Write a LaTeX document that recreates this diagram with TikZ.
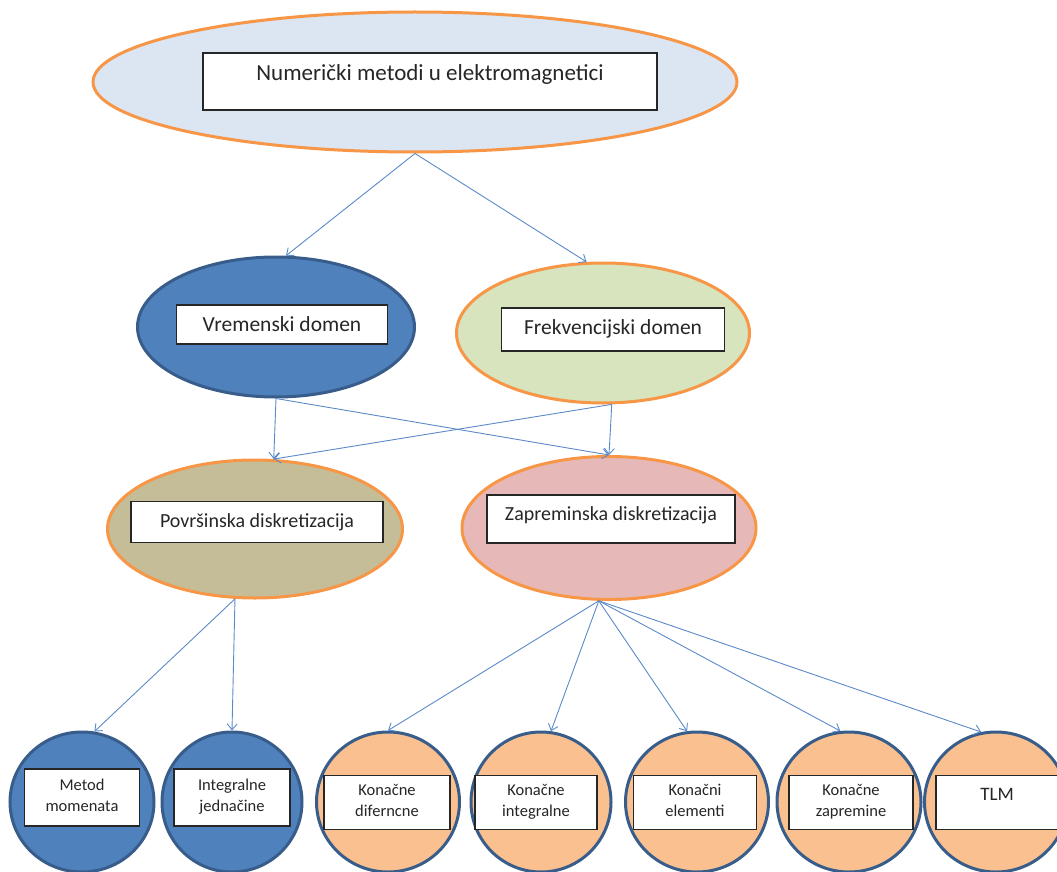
\documentclass[tikz,border=0pt]{standalone}
\usepackage{fontspec}
\setmainfont{Carlito}
\usepackage{xcolor}
\usetikzlibrary{arrows.meta}
\usetikzlibrary{shapes.geometric}
\definecolor{orangeline}{HTML}{F79646}
\definecolor{blueline}{HTML}{385D8A}
\definecolor{arrowblue}{HTML}{5B8AC8}
\definecolor{topfill}{HTML}{DCE6F2}
\definecolor{timefill}{HTML}{4F81BD}
\definecolor{freqfill}{HTML}{D7E4BD}
\definecolor{surffill}{HTML}{C4BD97}
\definecolor{volfill}{HTML}{E6B9B8}
\definecolor{methfill}{HTML}{FAC090}
\tikzset{
    blob/.style={
        draw,
        ellipse,
        line width=3pt,
        inner sep=0pt
    },
    tag/.style={
        draw=black!85,
        fill=white,
        text=black!85,
        rectangle,
        line width=1.4pt,
        inner sep=0pt
    },
    link/.style={
        draw=arrowblue,
        line width=0.9pt,
        -{Straight Barb[length=6pt, width=10pt]}
    }
}
% text raised inside a box, rows centred
\newcommand{\lbl}[2]{\raisebox{#1}[0pt][0pt]{\begin{tabular}{@{}c@{}}#2\end{tabular}}}

\begin{document}
\begin{tikzpicture}[x=1pt, y=-1pt]
    \useasboundingbox (0,0) rectangle (1057,872);

    % top
    \node[blob, fill=topfill, draw=orangeline, minimum width=644pt, minimum height=140pt] (num) at (415,82) {};
    \node[tag, minimum width=454pt, minimum height=57pt, font=\fontsize{23}{28}\selectfont] (numtag) at (430,81.5) {\lbl{0pt}{Numerički metodi u elektromagnetici}};

    % domains
    \node[blob, fill=timefill, draw=blueline, minimum width=277pt, minimum height=140pt] (vrem) at (276,327) {};
    \node[tag, minimum width=211pt, minimum height=39pt, font=\fontsize{21.5}{26}\selectfont] (vremtag) at (282,324.5) {\lbl{-7pt}{Vremenski domen}};
    \node[blob, fill=freqfill, draw=orangeline, minimum width=293pt, minimum height=140pt] (frek) at (603,333) {};
    \node[tag, minimum width=223pt, minimum height=43pt, font=\fontsize{21.5}{26}\selectfont] (frektag) at (613,329.5) {\lbl{-5pt}{Frekvencijski domen}};

    % discretization
    \node[blob, fill=surffill, draw=orangeline, minimum width=295pt, minimum height=138pt] (pov) at (255,529) {};
    \node[tag, minimum width=252pt, minimum height=41pt, font=\fontsize{20}{24}\selectfont] (povtag) at (257,522) {\lbl{-6.3pt}{Površinska diskretizacija}};
    \node[blob, fill=volfill, draw=orangeline, minimum width=294pt, minimum height=143pt] (zap) at (609,528) {};
    \node[tag, minimum width=248pt, minimum height=48pt, font=\fontsize{20}{24}\selectfont] (zaptag) at (611,519) {\lbl{-2.3pt}{Zapreminska diskretizacija}};

    % methods
    \node[blob, fill=timefill, draw=blueline, minimum width=144pt, minimum height=140pt] (mom) at (82,802) {};
    \node[tag, minimum width=115pt, minimum height=57pt, font=\fontsize{16.5}{21}\selectfont] (momtag) at (82,797.5) {\lbl{-4pt}{Metod\\momenata}};
    \node[blob, fill=timefill, draw=blueline, minimum width=140pt, minimum height=140pt] (ije) at (232,802) {};
    \node[tag, minimum width=116pt, minimum height=57pt, font=\fontsize{16.5}{21}\selectfont] (ijetag) at (232,797.5) {\lbl{-4pt}{Integralne\\jednačine}};
    \node[blob, fill=methfill, draw=blueline, minimum width=143pt, minimum height=140pt] (kd) at (388,802) {};
    \node[tag, minimum width=126pt, minimum height=54pt, font=\fontsize{16.5}{21}\selectfont] (kdtag) at (387,802.5) {\lbl{-4pt}{Konačne\\diferncne}};
    \node[blob, fill=methfill, draw=blueline, minimum width=140pt, minimum height=140pt] (ki) at (541,802) {};
    \node[tag, minimum width=122pt, minimum height=54pt, font=\fontsize{16.5}{21}\selectfont] (kitag) at (536,802.5) {\lbl{-4pt}{Konačne\\integralne}};
    \node[blob, fill=methfill, draw=blueline, minimum width=143pt, minimum height=140pt] (ke) at (697,802) {};
    \node[tag, minimum width=123pt, minimum height=54pt, font=\fontsize{16.5}{21}\selectfont] (ketag) at (695,802.5) {\lbl{-4pt}{Konačni\\elementi}};
    \node[blob, fill=methfill, draw=blueline, minimum width=144pt, minimum height=140pt] (kz) at (849,802) {};
    \node[tag, minimum width=124pt, minimum height=54pt, font=\fontsize{16.5}{21}\selectfont] (kztag) at (851,802.5) {\lbl{-4pt}{Konačne\\zapremine}};
    \node[blob, fill=methfill, draw=blueline, minimum width=143pt, minimum height=140pt] (tlm) at (996,802) {};
    \node[tag, minimum width=122pt, minimum height=54pt, font=\fontsize{19}{23}\selectfont] (tlmtag) at (997,802.5) {\lbl{2pt}{TLM}};

    \draw[link] (num.south) -- (vrem.82);
    \draw[link] (num.south) -- (frek.103);

    \draw[link] (vrem.south) -- (pov.75);
    \draw[link] (vrem.south) -- (zap.north);
    \draw[link] (frek.-83) -- (pov.75);
    \draw[link] (frek.-83) -- (zap.north);

    \draw[link] (pov.-106) -- (mom.80);
    \draw[link] (pov.-106) -- (ije.north);

    \draw[link] (zap.-98) -- (kd.north);
    \draw[link] (zap.-98) -- (ki.82);
    \draw[link] (zap.-98) -- (ke.98);
    \draw[link] (zap.-98) -- (kz.97);
    \draw[link] (zap.-98) -- (tlm.102);
\end{tikzpicture}
\end{document}
